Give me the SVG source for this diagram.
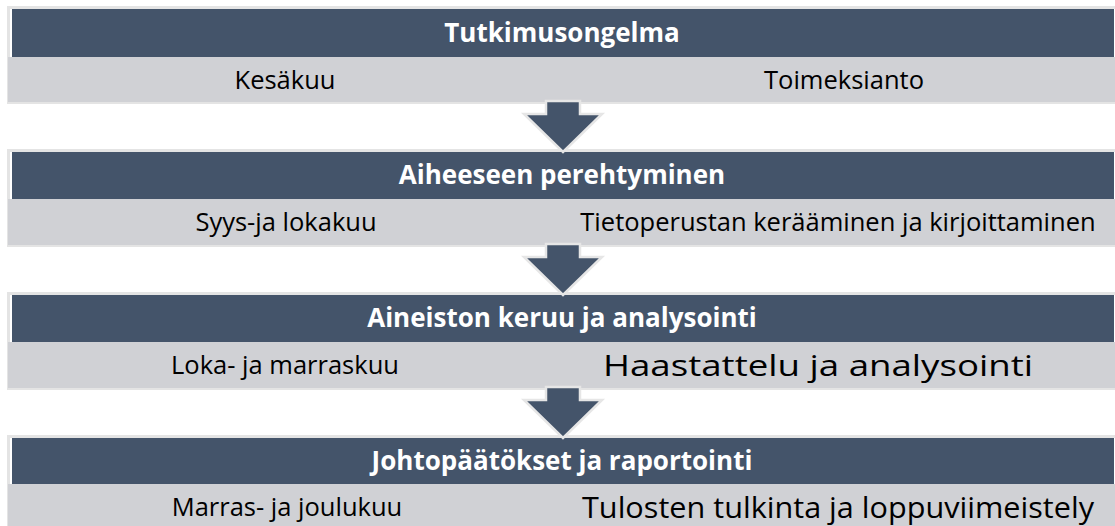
<svg xmlns="http://www.w3.org/2000/svg" width="1115" height="526" viewBox="0 0 1115 526">
<style>
.halo{fill:none;stroke:#e4e4e4;stroke-width:3}
.dark{fill:#44546a}
.gray{fill:#d0d1d5}
.title{font-family:"Open Sans","Liberation Sans",sans-serif;font-weight:bold;font-size:26px;fill:#ffffff;text-anchor:middle}
.sub{font-family:"Open Sans","Liberation Sans",sans-serif;font-size:25.5px;fill:#000000;text-anchor:middle}
.big{font-size:30px}
.arrow{fill:#44546a;stroke:#e6e6e6;stroke-width:2.5;stroke-linejoin:miter}
</style>
<rect width="1115" height="526" fill="#ffffff"/>
<g id="stage1">
<rect class="halo" x="8.5" y="7.5" width="1110" height="95"/>
<rect class="dark" x="12" y="9" width="1102" height="48"/>
<rect class="gray" x="8" y="57" width="1107" height="45"/>
<text class="title" x="562" y="42">Tutkimusongelma</text>
<text class="sub" x="285" y="89">Kesäkuu</text>
<text class="sub" x="844" y="89">Toimeksianto</text>
</g>
<g id="stage2">
<rect class="halo" x="8.5" y="150.5" width="1110" height="95"/>
<rect class="dark" x="12" y="152" width="1102" height="47"/>
<rect class="gray" x="8" y="199" width="1107" height="46"/>
<text class="title" x="562" y="184">Aiheeseen perehtyminen</text>
<text class="sub" x="286" y="231">Syys-ja lokakuu</text>
<text class="sub" x="838" y="231">Tietoperustan kerääminen ja kirjoittaminen</text>
</g>
<g id="stage3">
<rect class="halo" x="8.5" y="293.5" width="1110" height="95"/>
<rect class="dark" x="12" y="295" width="1102" height="47"/>
<rect class="gray" x="8" y="342" width="1107" height="46"/>
<text class="title" x="562" y="327">Aineiston keruu ja  analysointi</text>
<text class="sub" x="285" y="374">Loka- ja marraskuu</text>
<text class="sub big" x="818" y="376" textLength="430" lengthAdjust="spacingAndGlyphs">Haastattelu ja analysointi</text>
</g>
<g id="stage4">
<rect class="halo" x="8.5" y="436.5" width="1110" height="95"/>
<rect class="dark" x="12" y="438" width="1102" height="46"/>
<rect class="gray" x="8" y="484" width="1107" height="45"/>
<text class="title" x="562" y="470">Johtopäätökset ja raportointi</text>
<text class="sub" x="287" y="516">Marras- ja joulukuu</text>
<text class="sub big" x="838" y="518" textLength="512" lengthAdjust="spacingAndGlyphs">Tulosten tulkinta ja loppuviimeistely</text>
</g>
<g id="connectors">
<path class="arrow" d="M546 101 H580 V114 H602 L563 152 L524 114 H546 Z"/>
<path class="arrow" d="M546 244 H580 V257 H602 L563 295 L524 257 H546 Z"/>
<path class="arrow" d="M546 387 H580 V400 H602 L563 438 L524 400 H546 Z"/>
</g>
</svg>
